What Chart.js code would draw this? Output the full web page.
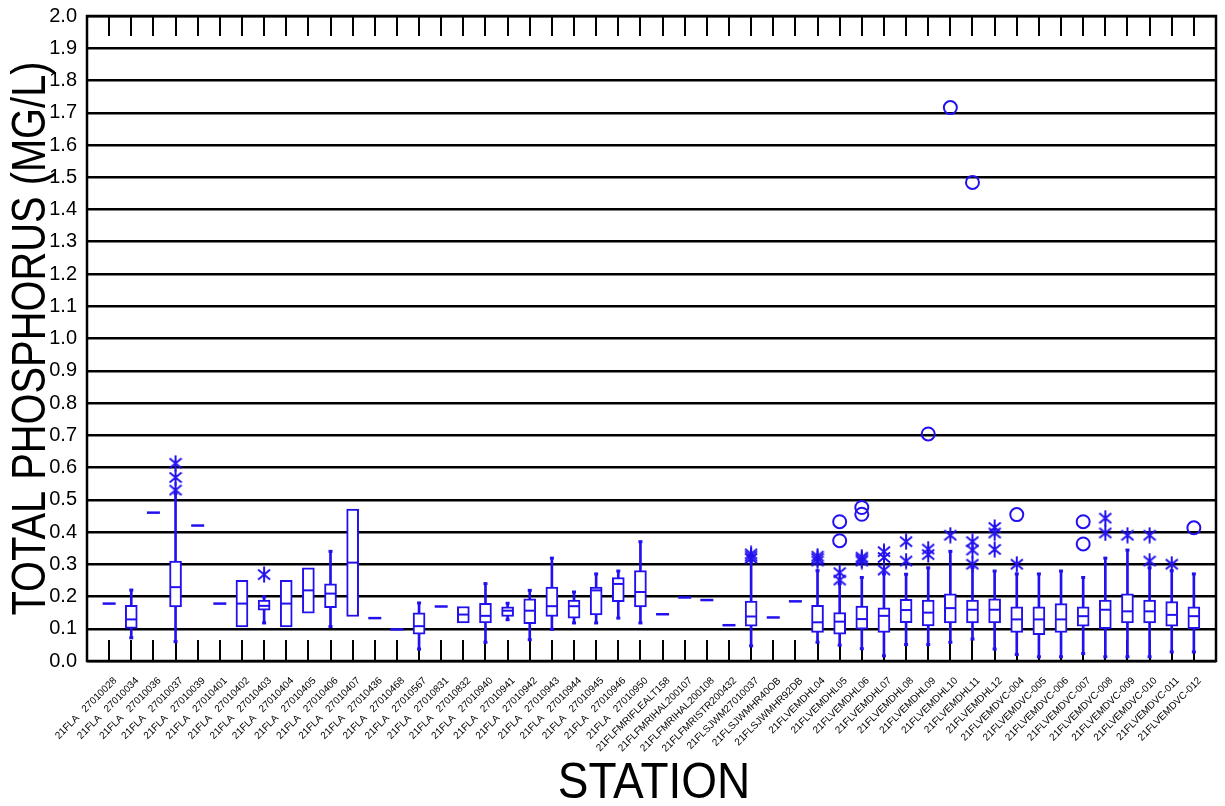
<!DOCTYPE html>
<html>
<head>
<meta charset="utf-8">
<script src="https://cdn.jsdelivr.net/npm/chart.js@4/dist/chart.umd.min.js"></script>
<style>
  html, body { margin: 0; padding: 0; background: #ffffff; }
  #wrap { width: 1225px; height: 806px; }
</style>
</head>
<body>
<div id="wrap"><canvas id="chart" width="1225" height="806"></canvas></div>
<script>
// Station identifiers, in plotting order
const stations = [
  '21FLA   27010028', '21FLA   27010034', '21FLA   27010036', '21FLA   27010037', '21FLA   27010039',
  '21FLA   27010401', '21FLA   27010402', '21FLA   27010403', '21FLA   27010404', '21FLA   27010405',
  '21FLA   27010406', '21FLA   27010407', '21FLA   27010436', '21FLA   27010468', '21FLA   27010567',
  '21FLA   27010831', '21FLA   27010832', '21FLA   27010940', '21FLA   27010941', '21FLA   27010942',
  '21FLA   27010943', '21FLA   27010944', '21FLA   27010945', '21FLA   27010946', '21FLA   27010950',
  '21FLFMRIFLEALT158', '21FLFMRIHAL200107', '21FLFMRIHAL200108', '21FLFMRISTR200432', '21FLSJWM27010037',
  '21FLSJWMHR40OB', '21FLSJWMHR92DB', '21FLVEMDHL04', '21FLVEMDHL05', '21FLVEMDHL06',
  '21FLVEMDHL07', '21FLVEMDHL08', '21FLVEMDHL09', '21FLVEMDHL10', '21FLVEMDHL11',
  '21FLVEMDHL12', '21FLVEMDVC-004', '21FLVEMDVC-005', '21FLVEMDVC-006', '21FLVEMDVC-007',
  '21FLVEMDVC-008', '21FLVEMDVC-009', '21FLVEMDVC-010', '21FLVEMDVC-011', '21FLVEMDVC-012'
];

// Box statistics, total phosphorus (mg/L); null where a station has a single sample
const whiskerLow = [
  null, 0.072, null, 0.060, null, null, null, 0.118, null, null,
  0.107, null, null, null, 0.037, null, null, 0.058, 0.128, 0.066,
  0.098, 0.118, 0.118, 0.133, 0.118, null, null, null, null, 0.047,
  null, null, 0.058, 0.049, 0.038, 0.016, 0.051, 0.051, 0.058, 0.068,
  0.037, 0.020, 0.013, 0.013, 0.023, 0.013, 0.013, 0.013, 0.028, 0.028
];
const quartile1 = [
  null, 0.101, null, 0.168, null, null, 0.106, 0.158, 0.106, 0.148,
  0.165, 0.138, null, null, 0.083, null, 0.118, 0.118, 0.138, 0.116,
  0.138, 0.133, 0.143, 0.184, 0.168, null, null, null, null, 0.108,
  null, null, 0.089, 0.083, 0.099, 0.089, 0.119, 0.109, 0.118, 0.118,
  0.118, 0.089, 0.082, 0.089, 0.108, 0.100, 0.118, 0.118, 0.108, 0.100
];
const median = [
  null, 0.129, null, 0.229, null, null, 0.178, 0.171, 0.178, 0.219,
  0.209, 0.305, null, null, 0.108, null, 0.144, 0.140, 0.156, 0.156,
  0.170, 0.170, 0.219, 0.239, 0.214, null, null, null, null, 0.138,
  null, null, 0.120, 0.122, 0.130, 0.140, 0.158, 0.150, 0.164, 0.159,
  0.159, 0.129, 0.129, 0.129, 0.139, 0.159, 0.154, 0.154, 0.143, 0.139
];
const quartile3 = [
  null, 0.173, null, 0.310, null, null, 0.250, 0.189, 0.250, 0.289,
  0.239, 0.471, null, null, 0.149, null, 0.169, 0.179, 0.168, 0.193,
  0.229, 0.189, 0.229, 0.259, 0.280, null, null, null, null, 0.186,
  null, null, 0.173, 0.150, 0.170, 0.165, 0.191, 0.189, 0.208, 0.189,
  0.193, 0.168, 0.168, 0.178, 0.168, 0.189, 0.208, 0.189, 0.184, 0.168
];
const whiskerHigh = [
  null, 0.220, null, 0.520, null, null, null, 0.199, null, null,
  0.340, null, null, null, 0.180, null, null, 0.240, 0.179, 0.219,
  0.319, 0.214, 0.270, 0.279, 0.370, null, null, null, null, 0.310,
  null, null, 0.280, 0.240, 0.259, 0.270, 0.269, 0.289, 0.340, 0.290,
  0.279, 0.270, 0.270, 0.279, 0.259, 0.319, 0.344, 0.289, 0.280, 0.270
];
// Stations with a single sample
const singleValue = [
  0.178, null, 0.460, null, 0.420, 0.178, null, null, null, null,
  null, null, 0.133, 0.098, null, 0.169, null, null, null, null,
  null, null, null, null, null, 0.145, 0.197, 0.189, 0.111, null,
  0.135, 0.185, null, null, null, null, null, null, null, null,
  null, null, null, null, null, null, null, null, null, null
];
// Outside values [station number, mg/L]
const outsideValues = [
  [4, 0.530], [4, 0.569], [4, 0.613], [8, 0.268],
  [30, 0.318], [30, 0.325], [30, 0.332],
  [33, 0.310], [33, 0.318], [33, 0.325],
  [34, 0.251], [34, 0.274],
  [35, 0.310], [35, 0.316], [35, 0.322],
  [36, 0.282], [36, 0.321], [36, 0.339],
  [37, 0.310], [37, 0.370], [38, 0.330], [38, 0.347], [39, 0.390],
  [40, 0.300], [40, 0.344], [40, 0.370],
  [41, 0.346], [41, 0.397], [41, 0.414], [42, 0.300],
  [46, 0.397], [46, 0.443], [47, 0.390], [48, 0.310], [48, 0.390], [49, 0.300]
];
// Far outside values [station number, mg/L]
const farOutValues = [
  [34, 0.373], [34, 0.432], [35, 0.455], [35, 0.476], [38, 0.704],
  [39, 1.716], [40, 1.484], [42, 0.454], [45, 0.363], [45, 0.432], [50, 0.413]
];
// Value axis ticks
const yTickValues = [0.0, 0.1, 0.2, 0.3, 0.4, 0.5, 0.6, 0.7, 0.8, 0.9, 1.0,
                     1.1, 1.2, 1.3, 1.4, 1.5, 1.6, 1.7, 1.8, 1.9, 2.0];
const yTitle = 'TOTAL PHOSPHORUS (MG/L)';
const xTitle = 'STATION';

const BLUE = '#2211ee';
const FONT = '"Liberation Sans", Arial, Helvetica, sans-serif';

// helpers turning the per-station arrays into {x, y} points
const toPoints = arr => arr.map((v, i) => (v == null ? null : { x: i + 1, y: v })).filter(Boolean);
const toRanges = (lo, hi) => lo.map((v, i) => (v == null || hi[i] == null ? null : { x: i + 1, y: [v, hi[i]] })).filter(Boolean);
const pairPoints = list => list.map(([s, v]) => ({ x: s, y: v }));

// six-armed asterisk marker
function asteriskMarker() {
  const c = document.createElement('canvas');
  c.width = 14; c.height = 17;
  const g = c.getContext('2d');
  g.strokeStyle = BLUE;
  g.lineWidth = 2;
  g.beginPath();
  g.moveTo(7, 0.5); g.lineTo(7, 16.5);
  g.moveTo(1, 3.5); g.lineTo(13, 13.5);
  g.moveTo(1, 13.5); g.lineTo(13, 3.5);
  g.stroke();
  return c;
}

// tick marks pointing into the plot, plus the frame
const frameTicks = {
  id: 'frameTicks',
  beforeDatasetsDraw(chart) {
    const { ctx, chartArea: a, scales: { x } } = chart;
    ctx.save();
    ctx.strokeStyle = '#000';
    ctx.lineWidth = 2;
    ctx.beginPath();
    for (let i = 1; i <= stations.length; i++) {
      const px = Math.round(x.getPixelForValue(i));
      ctx.moveTo(px, a.top); ctx.lineTo(px, a.top + 20);
      ctx.moveTo(px, a.bottom); ctx.lineTo(px, a.bottom - 21);
    }
    ctx.stroke();
    ctx.lineWidth = 2.5;
    ctx.strokeRect(a.left, a.top, a.right - a.left, a.bottom - a.top);
    ctx.restore();
  }
};

// axis titles, set in a narrowed face
const axisTitles = {
  id: 'axisTitles',
  afterDraw(chart) {
    const { ctx, chartArea: a } = chart;
    ctx.save();
    ctx.fillStyle = '#000';
    ctx.textAlign = 'center';
    ctx.textBaseline = 'alphabetic';
    ctx.font = '48px ' + FONT;
    ctx.translate(45, (a.top + a.bottom) / 2);
    ctx.rotate(-Math.PI / 2);
    ctx.scale(0.83, 1);
    ctx.fillText(yTitle, 0, 0);
    ctx.restore();

    ctx.save();
    ctx.fillStyle = '#000';
    ctx.textAlign = 'center';
    ctx.textBaseline = 'alphabetic';
    ctx.font = '50px ' + FONT;
    ctx.translate(654, 798);
    ctx.scale(0.92, 1);
    ctx.fillText(xTitle, 0, 0);
    ctx.restore();
  }
};

new Chart(document.getElementById('chart'), {
  type: 'bar',
  data: {
    datasets: [
      {
        type: 'bar', label: 'whiskers', order: 3,
        data: toRanges(whiskerLow, whiskerHigh),
        backgroundColor: BLUE, borderWidth: 0, barThickness: 2, grouped: false
      },
      {
        type: 'bar', label: 'boxes', order: 2,
        data: toRanges(quartile1, quartile3),
        backgroundColor: '#ffffff', borderColor: BLUE, borderWidth: 2,
        borderSkipped: false, barThickness: 12, grouped: false
      },
      {
        type: 'scatter', label: 'median', order: 1,
        data: toPoints(median),
        pointStyle: 'line', pointRadius: 5, pointBorderWidth: 2, pointBorderColor: BLUE
      },
      {
        type: 'scatter', label: 'whisker ends', order: 1,
        data: toPoints(whiskerLow).concat(toPoints(whiskerHigh)),
        pointStyle: 'line', pointRadius: 2, pointBorderWidth: 3, pointBorderColor: BLUE
      },
      {
        type: 'scatter', label: 'single sample', order: 1,
        data: toPoints(singleValue),
        pointStyle: 'line', pointRadius: 6.5, pointBorderWidth: 2.5, pointBorderColor: BLUE
      },
      {
        type: 'scatter', label: 'outside', order: 0,
        data: pairPoints(outsideValues),
        pointStyle: asteriskMarker(), pointRadius: 7
      },
      {
        type: 'scatter', label: 'far outside', order: 0,
        data: pairPoints(farOutValues),
        pointStyle: 'circle', pointRadius: 6.5, pointBorderWidth: 2,
        pointBorderColor: BLUE, pointBackgroundColor: 'rgba(0,0,0,0)'
      }
    ]
  },
  options: {
    responsive: false,
    animation: false,
    events: [],
    layout: { padding: { top: 16, right: 6, left: 0, bottom: 0 } },
    plugins: { legend: { display: false }, tooltip: { enabled: false }, title: { display: false } },
    scales: {
      x: {
        type: 'linear', min: 0, max: stations.length + 1, offset: false,
        afterFit(s) { s.height = 145; s.paddingLeft = 0; s.paddingRight = 0; },
        grid: { display: false, drawTicks: false },
        border: { display: false },
        ticks: {
          stepSize: 1, autoSkip: false, minRotation: 45, maxRotation: 45,
          padding: 14, labelOffset: 6,
          color: '#000', font: { family: FONT, size: 10 },
          callback: v => (v >= 1 && v <= stations.length ? stations[v - 1] : '')
        }
      },
      y: {
        type: 'linear', min: 0, max: 2,
        afterFit(s) { s.width = 87; s.paddingTop = 0; s.paddingBottom = 0; },
        afterBuildTicks(s) { s.ticks = yTickValues.map(v => ({ value: v })); },
        grid: { color: '#000', lineWidth: 2.5, drawTicks: false },
        border: { display: false },
        ticks: {
          padding: 10, color: '#000', font: { family: FONT, size: 20 },
          callback: v => Number(v).toFixed(1)
        }
      }
    }
  },
  plugins: [frameTicks, axisTitles]
});
</script>
</body>
</html>
